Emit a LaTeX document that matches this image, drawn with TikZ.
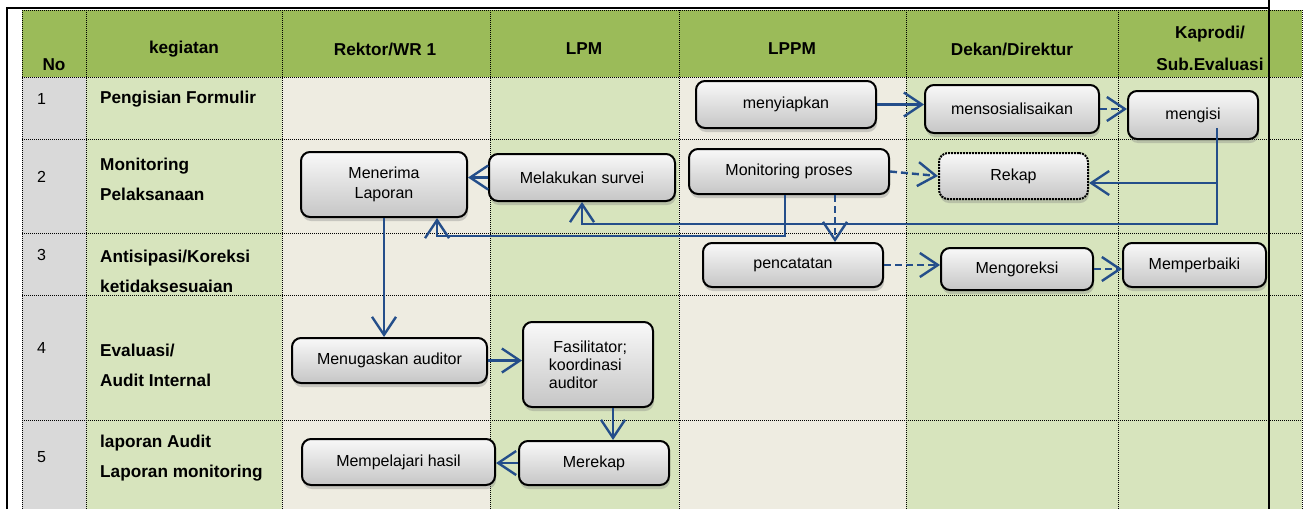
\documentclass[tikz,border=0pt]{standalone}
\usepackage{fontspec}
\setmainfont{Liberation Sans}
\usetikzlibrary{arrows.meta,shadows,calc}
\definecolor{hdrgreen}{RGB}{155,187,89}
\definecolor{cellgreen}{RGB}{215,228,189}
\definecolor{cellbeige}{RGB}{238,236,225}
\definecolor{cellgray}{RGB}{217,217,217}
\definecolor{flowblue}{RGB}{36,78,138}

\begin{document}
\begin{tikzpicture}[x=1pt, y=-1pt,
  proc/.style={draw, rounded corners=9pt, line width=2pt, top color=gray!5, bottom color=gray!45,
    align=center, inner sep=0pt, font=\fontsize{16}{20}\selectfont,
    drop shadow={shadow xshift=1pt, shadow yshift=-4pt, opacity=0.35}},
  hdr/.style={font=\bfseries\fontsize{17.2}{32}\selectfont, align=center, inner sep=0pt},
  lbl/.style={font=\bfseries\fontsize{17.2}{30}\selectfont, align=left, anchor=west, inner sep=0pt},
  num/.style={font=\fontsize{16}{18}\selectfont, anchor=west, inner sep=0pt},
  grid/.style={line width=1pt, dash pattern=on 1pt off 1pt},
  flow/.style={draw=flowblue, line width=2.4pt, -{Straight Barb[length=18pt,width=24pt,line width=2.4pt]}},
  flowdash/.style={flow, dash pattern=on 7pt off 4pt}]
\useasboundingbox (0,0) rectangle (1306,509);
%============ table cells
\fill[cellgray] (22,77) rectangle (86,509);
\fill[cellgreen] (86,77) rectangle (282,509);
\fill[cellbeige] (282,77) rectangle (490,509);
\fill[cellgreen] (490,77) rectangle (679,509);
\fill[cellbeige] (679,77) rectangle (906,509);
\fill[cellgreen] (906,77) rectangle (1302,509);
\fill[hdrgreen] (22,10) rectangle (1302,77);
\draw[grid] (22,10) -- (22,509) (86,10) -- (86,509) (282,10) -- (282,509) (490,10) -- (490,509)
  (679,10) -- (679,509) (906,10) -- (906,509) (1118,10) -- (1118,509) (1302,10) -- (1302,509);
\draw[grid] (22,10) -- (1302,10) (22,77) -- (1302,77) (22,139) -- (1302,139) (22,233) -- (1302,233)
  (22,295) -- (1302,295) (22,420) -- (1302,420);
\draw[line width=2pt] (7,509) -- (7,8) -- (1269,8);
\draw[line width=2pt] (1269,0) -- (1269,509);
%============ header
\node[hdr] (HNo) at (54,65) {No};
\node[hdr] (HKeg) at (184,49) {kegiatan};
\node[hdr] (HRek) at (385,49) {Rektor/WR 1};
\node[hdr] (HLpm) at (584,49) {LPM};
\node[hdr] (HLppm) at (792,49) {LPPM};
\node[hdr] (HDek) at (1012,49) {Dekan/Direktur};
\node[hdr] (HKap) at (1210,48) {Kaprodi/\\Sub.Evaluasi};
%============ rows
\node[num] (N1) at (37,99) {1};
\node[num] (N2) at (37,177) {2};
\node[num] (N3) at (37,255) {3};
\node[num] (N4) at (37,348) {4};
\node[num] (N5) at (37,457) {5};
\node[lbl] (K1) at (100,99) {Pengisian Formulir};
\node[lbl] (K2) at (100,179) {Monitoring\\Pelaksanaan};
\node[lbl] (K3) at (100,271) {Antisipasi/Koreksi\\ketidaksesuaian};
\node[lbl] (K4) at (100,365) {Evaluasi/\\Audit Internal};
\node[lbl] (K5) at (100,458) {laporan Audit\\Laporan monitoring};
%============ boxes
\node[proc, minimum width=180, minimum height=47] (Siap) at (786,104.5) {menyiapkan};
\node[proc, minimum width=174, minimum height=48] (Sosial) at (1012,109) {mensosialisaikan};
\node[proc, minimum width=130, minimum height=48] (Isi) at (1193,115) {mengisi};
\node[proc, minimum width=166, minimum height=65] (Terima) at (384,184.5) {Menerima\\Laporan};
\node[proc, minimum width=186, minimum height=47] (Survei) at (582,177.5) {Melakukan survei};
\node[proc, minimum width=200, minimum height=45] (MonPro) at (789,171.5) {Monitoring proses};
\node[proc, densely dotted, minimum width=149, minimum height=46] (Rekap) at (1013.5,176) {Rekap};
\node[proc, minimum width=180, minimum height=44] (Catat) at (793,265) {pencatatan};
\node[proc, minimum width=152, minimum height=42] (Koreksi) at (1017,269) {Mengoreksi};
\node[proc, minimum width=143, minimum height=44] (Baiki) at (1194.5,265) {Memperbaiki};
\node[proc, minimum width=195, minimum height=45] (Tugas) at (389.5,360.5) {Menugaskan auditor};
\node[proc, minimum width=130, minimum height=85, align=left, font=\fontsize{16}{18}\selectfont] (Fasil) at (588,364.5) {\ Fasilitator;\\koordinasi\\auditor};
\node[proc, minimum width=193, minimum height=46] (Pelajari) at (398.5,462) {Mempelajari hasil};
\node[proc, minimum width=150, minimum height=44] (Merekap) at (594,463) {Merekap};
%============ connectors
\coordinate (IsiOut) at (1217,128);
\coordinate (RekapIn) at ([yshift=-7pt]Rekap.east);
\coordinate (BackTurn) at (437,236);
\coordinate (CatOut) at ([xshift=46pt]MonPro.south);
\coordinate (MonOut) at ([xshift=-4pt]MonPro.south);
\coordinate (FasOut) at ([xshift=25pt]Fasil.south);

\draw[flow] (Siap.east) -- (Siap.east -| Sosial.west);
\draw[flowdash] (Sosial.east) -- (Sosial.east -| Isi.west);
\draw[flow] (IsiOut) |- ($(Survei.south)+(0,22)$) -- (Survei.south);
\draw[flow] (RekapIn -| IsiOut) -- (RekapIn);
\draw[flowdash] (MonPro.east) -- (Rekap.west);
\draw[flowdash] (CatOut) -- (CatOut |- Catat.north);
\draw[flow] (MonOut) |- (BackTurn) -- (BackTurn |- Terima.south);
\draw[flow] (Survei.west) -- (Survei.west -| Terima.east);
\draw[flowdash] (Catat.east) -- (Catat.east -| Koreksi.west);
\draw[flowdash] (Koreksi.east) -- (Koreksi.east -| Baiki.west);
\draw[flow] (Terima.south) -- (Terima.south |- Tugas.north);
\draw[flow] (Tugas.east) -- (Tugas.east -| Fasil.west);
\draw[flow] (FasOut) -- (FasOut |- Merekap.north);
\draw[flow] (Merekap.west) -- (Merekap.west -| Pelajari.east);
\end{tikzpicture}
\end{document}
